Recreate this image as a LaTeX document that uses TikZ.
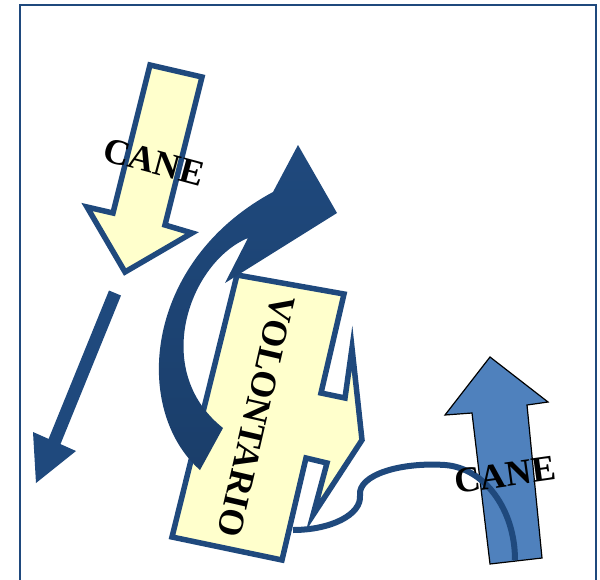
\documentclass[tikz,border=0pt]{standalone}
\usepackage{fontspec}
\setmainfont{Liberation Serif}
\definecolor{textblue}{HTML}{1F497D}
\definecolor{paleyellow}{HTML}{FFFFCC}
\definecolor{midblue}{HTML}{4F81BD}
\begin{document}
\begin{tikzpicture}[x=1pt,y=-1pt,
    outline/.style={draw=textblue,line width=5.5,line join=miter,fill=paleyellow},
    word/.style={font=\bfseries\fontsize{36}{36}\selectfont,inner sep=0}]
        %% Frame
        \useasboundingbox (0,0) rectangle (600,579);
        \clip (0,0) rectangle (600,579);
        \draw[textblue,line width=2] (20,5) rectangle (596,620);
        %% Dog arrow (left)
        \draw[outline] (150,65) -- (202,77) -- (165,225) -- (192,233) -- (125,272) -- (87,207) -- (113,213) -- cycle;
        \node[word,rotate=-15] (C1) at (154,162) {CANE};
        %% Thin arrow
        \fill[textblue] (109,290.5) -- (48.6,438.9) -- (33,432) -- (36,483) -- (76,451) -- (60.5,444.1) -- (121,295.5) -- cycle;
        %% Volunteer
        \draw[outline] (237,275) -- (344,294) -- (321,393) -- (345,398) -- (352,348) -- (362,440) -- (313,515)
            -- (327,463) -- (306,458) -- (282,560) -- (172,537) -- cycle;
        %% Curved arrow
        \shade[top color=textblue,bottom color=textblue!85!black]
            (298,145) -- (337,213) -- (225,283) -- (248,238) .. controls (190,262) and (150,370) .. (223,428)
            -- (200,470) .. controls (132,410) and (143,262) .. (273,192) -- cycle;
        %% Dog arrow (right)
        \draw[fill=midblue,line width=1.2] (490,357) -- (548,402) -- (527,405) -- (542,558) -- (490,564) -- (472,413) -- (445,415) -- cycle;
        %% Leash
        \coordinate (hand) at (293,530);
        \coordinate (collar) at (515,560);
        \draw[textblue,line width=6] (hand) .. controls (330,530) and (362,515) .. (360,495)
            .. controls (358,475) and (400,462) .. (445,465) .. controls (485,468) and (515,510) .. (collar);
        %% Labels
        \node[word,rotate=-103] (V) at (256,416) {VOLONTARIO};
        \node[word,rotate=8] (C2) at (505,475) {CANE};
    \end{tikzpicture}
\end{document}
